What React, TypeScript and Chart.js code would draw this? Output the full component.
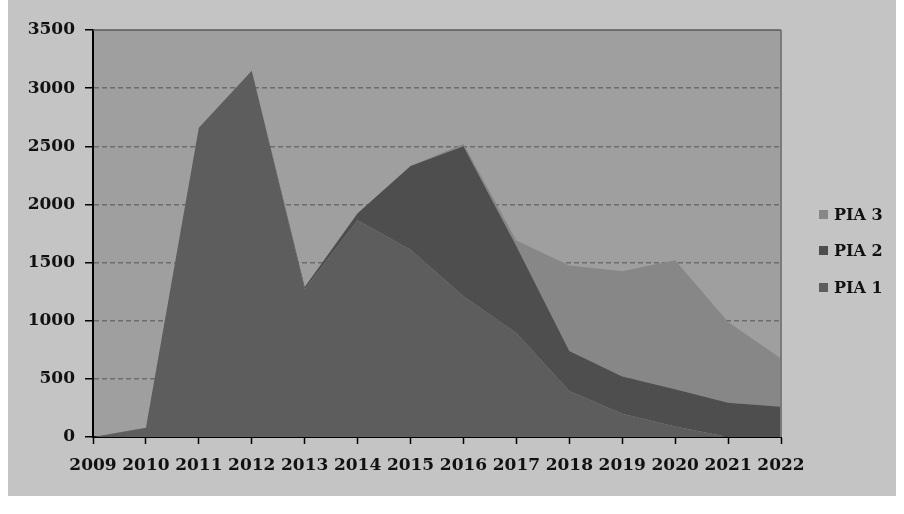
import React, { useEffect, useRef } from "react";
import { Chart, registerables } from "chart.js";

Chart.register(...registerables);

const years = ["2009", "2010", "2011", "2012", "2013", "2014", "2015", "2016", "2017", "2018", "2019", "2020", "2021", "2022"];
const pia1 = [0, 80, 2660, 3150, 1270, 1865, 1610, 1210, 895, 395, 200, 90, 0, 0];
const pia2 = [0, 0, 0, 0, 20, 60, 720, 1290, 745, 345, 320, 320, 295, 260];
const pia3 = [0, 0, 0, 0, 0, 0, 0, 20, 50, 735, 905, 1110, 695, 415];
const yMin = 0;
const yMax = 3500;
const yStep = 500;

const seriesNames = ["PIA 1", "PIA 2", "PIA 3"];
const seriesColors = ["#5d5d5d", "#4e4e4e", "#878787"];

const FONT = "'DejaVu Serif', serif";

const plotFrame = {
  id: "plotFrame",
  beforeDraw(chart: any) {
    const { ctx, chartArea } = chart;
    ctx.save();
    ctx.fillStyle = "#9f9f9f";
    ctx.fillRect(chartArea.left, chartArea.top, chartArea.right - chartArea.left, chartArea.bottom - chartArea.top);
    ctx.restore();
  },
  afterDatasetsDraw(chart: any) {
    const { ctx, chartArea } = chart;
    ctx.save();
    ctx.strokeStyle = "#5a5a5a";
    ctx.lineWidth = 1.5;
    ctx.beginPath();
    ctx.moveTo(chartArea.left, chartArea.top);
    ctx.lineTo(chartArea.right, chartArea.top);
    ctx.stroke();
    ctx.strokeStyle = "#7a7a7a";
    ctx.lineWidth = 2;
    ctx.beginPath();
    ctx.moveTo(chartArea.right, chartArea.top);
    ctx.lineTo(chartArea.right, chartArea.bottom);
    ctx.stroke();
    ctx.restore();
  },
};

export default function App() {
  const ref = useRef<HTMLCanvasElement>(null);

  useEffect(() => {
    if (!ref.current) return;
    const data = [pia1, pia2, pia3];
    const chart = new Chart(ref.current, {
      type: "line",
      data: {
        labels: years,
        datasets: data.map((d, i) => ({
          label: seriesNames[i],
          data: d,
          backgroundColor: seriesColors[i],
          borderColor: seriesColors[i],
          borderWidth: 0,
          pointRadius: 0,
          tension: 0,
          fill: i === 0 ? "origin" : "-1",
        })),
      },
      options: {
        animation: false,
        responsive: false,
        layout: { padding: { top: 30, right: 115, left: 0, bottom: 0 } },
        plugins: {
          legend: { display: false },
          tooltip: { enabled: false },
        },
        scales: {
          x: {
            offset: false,
            afterFit(scale: any) {
              scale.height = 59;
            },
            grid: {
              drawOnChartArea: false,
              tickLength: 7,
              tickColor: "#000",
              tickWidth: 1.5,
            },
            border: { display: true, color: "#000", width: 2 },
            ticks: {
              font: { family: FONT, size: 17, weight: "bold" },
              color: "#111",
              padding: 11,
              maxRotation: 0,
              autoSkip: false,
            },
          },
          y: {
            stacked: true,
            min: yMin,
            max: yMax,
            afterFit(scale: any) {
              scale.width = 85;
            },
            grid: {
              color: (c: any) => (c.tick && (c.tick.value === 0 || c.tick.value === yMax) ? "rgba(0,0,0,0)" : "#6c6c6c"),
              lineWidth: 1.5,
              tickLength: 8,
              tickColor: "#000",
              tickWidth: 1.5,
              tickBorderDash: [],
            },
            border: { display: true, color: "#000", width: 2, dash: [5, 3] },
            ticks: {
              stepSize: yStep,
              font: { family: FONT, size: 17, weight: "bold" },
              color: "#111",
              padding: 10,
              callback: (v: any) => String(v),
            },
          },
        },
      },
      plugins: [plotFrame],
    });
    return () => chart.destroy();
  }, []);

  const legendItems = [
    { name: seriesNames[2], color: seriesColors[2], top: 204 },
    { name: seriesNames[1], color: seriesColors[1], top: 240 },
    { name: seriesNames[0], color: seriesColors[0], top: 277 },
  ];

  return (
    <div style={{ position: "absolute", left: 8, top: 0, width: 888, height: 496, background: "#c4c4c4" }}>
      <canvas ref={ref} width={888} height={496} style={{ display: "block" }} />
      {legendItems.map((it) => (
        <div
          key={it.name}
          style={{
            position: "absolute",
            left: 811,
            top: it.top,
            height: 20,
            display: "flex",
            alignItems: "center",
            fontFamily: FONT,
            fontWeight: "bold",
            fontSize: 16,
            color: "#111",
            whiteSpace: "nowrap",
          }}
        >
          <span style={{ display: "inline-block", width: 9, height: 9, background: it.color, marginRight: 6 }} />
          <span>{it.name}</span>
        </div>
      ))}
    </div>
  );
}
